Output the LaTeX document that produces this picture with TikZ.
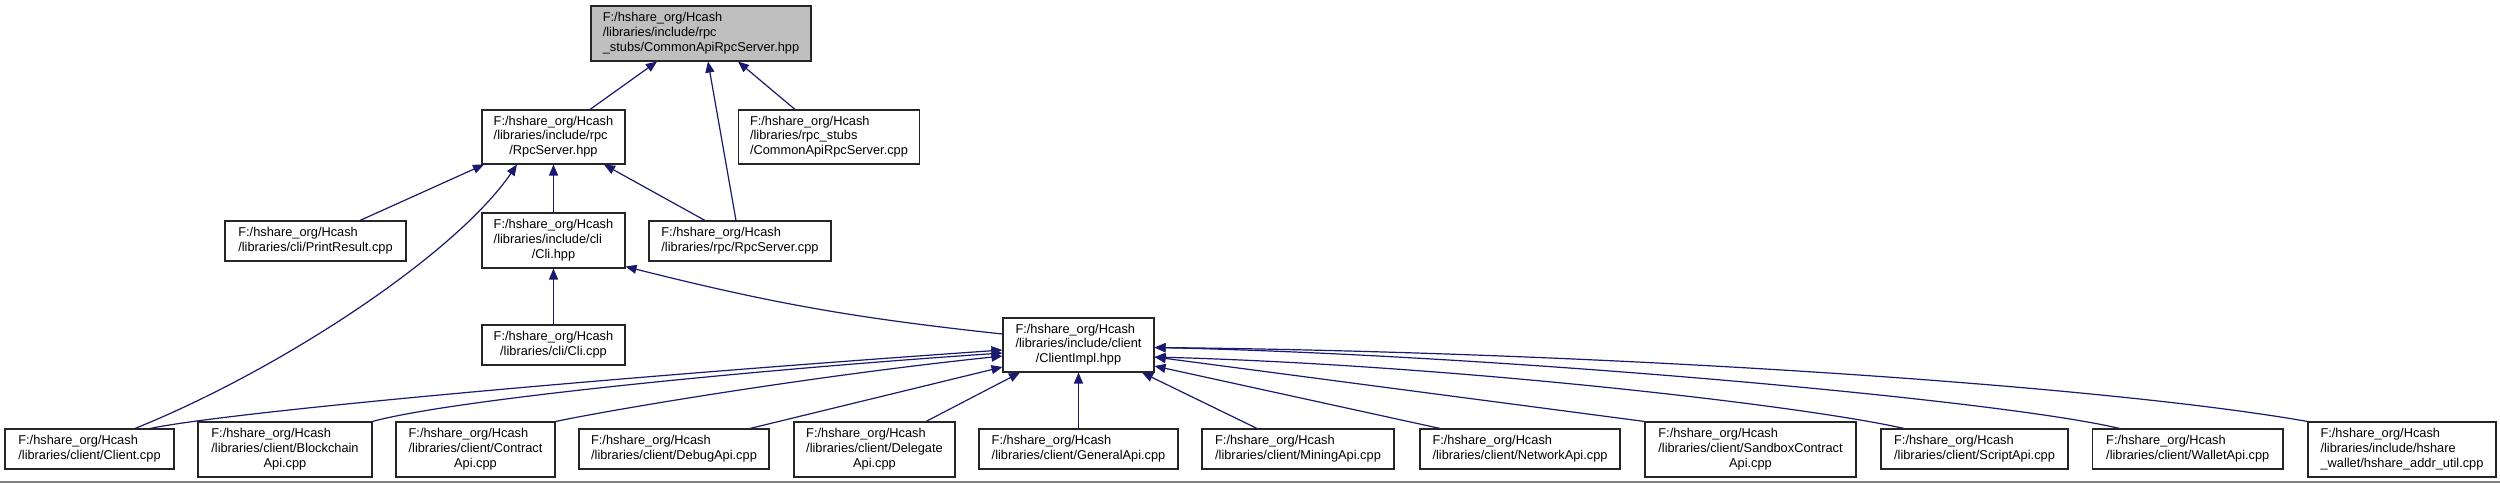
\documentclass[tikz,border=0pt]{standalone}
\usepackage{fontspec}
\setmainfont{Liberation Sans}
\usetikzlibrary{arrows.meta}
\definecolor{edgeblue}{HTML}{191970}
\definecolor{rootgray}{HTML}{BFBFBF}
\newcommand{\dgtxt}[2]{\begin{tabular}{@{}l@{}}#1\\\multicolumn{1}{@{}c@{}}{#2}\end{tabular}}
\begin{document}
\begin{tikzpicture}[x=1pt,y=-1pt,
  box/.style={draw=black!85, line width=1.1pt, fill=white, inner sep=0pt,
    font=\fontsize{12.8}{14.6}\selectfont, text=black},
  tall/.style={minimum height=55pt},
  short/.style={minimum height=40pt},
  edge/.style={draw=edgeblue, line width=1.2pt, -{Triangle[length=11pt,width=9pt]}}]
\fill[white] (0,0) rectangle (2500,483);
\useasboundingbox (0,0) rectangle (2500,483);
\draw[gray, line width=1.5pt] (0,482) -- (2500,482);

% nodes
\node[box, tall, fill=rootgray, minimum width=220pt] (top) at (701,33.5)
  {\dgtxt{F:/hshare\_org/Hcash\\/libraries/include/rpc}{\_stubs/CommonApiRpcServer.hpp}};
\node[box, minimum height=54pt, minimum width=143pt] (rpchpp) at (553.5,137)
  {\dgtxt{F:/hshare\_org/Hcash\\/libraries/include/rpc}{/RpcServer.hpp}};
\node[box, minimum height=54pt, minimum width=181pt] (capicpp) at (829,137)
  {\dgtxt{F:/hshare\_org/Hcash\\/libraries/rpc\_stubs}{/CommonApiRpcServer.cpp}};
\node[box, short, minimum width=181pt] (print) at (315.5,241)
  {\dgtxt{F:/hshare\_org/Hcash}{/libraries/cli/PrintResult.cpp}};
\node[box, tall, minimum width=143pt] (clihpp) at (553.5,240.5)
  {\dgtxt{F:/hshare\_org/Hcash\\/libraries/include/cli}{/Cli.hpp}};
\node[box, short, minimum width=182pt] (rpccpp) at (740,241)
  {\dgtxt{F:/hshare\_org/Hcash}{/libraries/rpc/RpcServer.cpp}};
\node[box, short, minimum width=143pt] (clicpp) at (553.5,345)
  {\dgtxt{F:/hshare\_org/Hcash}{/libraries/cli/Cli.cpp}};
\node[box, minimum height=54pt, minimum width=151pt] (cimpl) at (1078.5,345)
  {\dgtxt{F:/hshare\_org/Hcash\\/libraries/include/client}{/ClientImpl.hpp}};

\node[box, short, minimum width=169pt] (client) at (89.5,449)
  {\dgtxt{F:/hshare\_org/Hcash}{/libraries/client/Client.cpp}};
\node[box, tall, minimum width=174pt] (bchain) at (285,449.5)
  {\dgtxt{F:/hshare\_org/Hcash\\/libraries/client/Blockchain}{Api.cpp}};
\node[box, tall, minimum width=159pt] (contract) at (475.5,449.5)
  {\dgtxt{F:/hshare\_org/Hcash\\/libraries/client/Contract}{Api.cpp}};
\node[box, short, minimum width=190pt] (debug) at (674,449)
  {\dgtxt{F:/hshare\_org/Hcash}{/libraries/client/DebugApi.cpp}};
\node[box, tall, minimum width=161pt] (delegate) at (874.5,449.5)
  {\dgtxt{F:/hshare\_org/Hcash\\/libraries/client/Delegate}{Api.cpp}};
\node[box, short, minimum width=199pt] (general) at (1078.5,449)
  {\dgtxt{F:/hshare\_org/Hcash}{/libraries/client/GeneralApi.cpp}};
\node[box, short, minimum width=192pt] (mining) at (1298,449)
  {\dgtxt{F:/hshare\_org/Hcash}{/libraries/client/MiningApi.cpp}};
\node[box, short, minimum width=200pt] (network) at (1520,449)
  {\dgtxt{F:/hshare\_org/Hcash}{/libraries/client/NetworkApi.cpp}};
\node[box, tall, minimum width=211pt] (sandbox) at (1750.5,449.5)
  {\dgtxt{F:/hshare\_org/Hcash\\/libraries/client/SandboxContract}{Api.cpp}};
\node[box, short, minimum width=187pt] (script) at (1974.5,449)
  {\dgtxt{F:/hshare\_org/Hcash}{/libraries/client/ScriptApi.cpp}};
\node[box, short, minimum width=190.5pt] (wallet) at (2187.75,449)
  {\dgtxt{F:/hshare\_org/Hcash}{/libraries/client/WalletApi.cpp}};
\node[box, tall, minimum width=188pt] (hshare) at (2402,449.5)
  {\dgtxt{F:/hshare\_org/Hcash\\/libraries/include/hshare}{\_wallet/hshare\_addr\_util.cpp}};

% edges
\draw[edge] ([xshift=36.5pt]rpchpp.north) -- ([xshift=-44pt]top.south);
\draw[edge] ([xshift=-4pt]rpccpp.north) -- ([xshift=7pt]top.south);
\draw[edge] ([xshift=-34pt]capicpp.north) -- ([xshift=37pt]top.south);
\draw[edge] ([xshift=44.5pt]print.north) -- ([xshift=-69.5pt]rpchpp.south);
\draw[edge] ([xshift=45.5pt]client.north) .. controls (280,370) and (455,255) .. ([xshift=-36.5pt]rpchpp.south);
\draw[edge] (clihpp.north) -- (rpchpp.south);
\draw[edge] ([xshift=-35pt]rpccpp.north) -- ([xshift=50.5pt]rpchpp.south);
\draw[edge] (clicpp.north) -- (clihpp.south);
\draw[edge] ([yshift=11pt]cimpl.west) to[bend left=4] ([yshift=2pt]clihpp.south east);

\draw[edge] ([xshift=60.5pt]client.north) .. controls (230,412) and (600,378) .. ([yshift=-5pt]cimpl.west);
\draw[edge] (bchain.north east) .. controls (450,400) and (750,370) .. ([yshift=-8pt]cimpl.west);
\draw[edge] (contract.north east) .. controls (620,408) and (820,375) .. ([yshift=-11pt]cimpl.west);
\draw[edge] ([xshift=76pt]debug.north) -- ([yshift=-22pt]cimpl.west);
\draw[edge] ([xshift=51.5pt]delegate.north) -- ([xshift=-58.5pt]cimpl.south);
\draw[edge] (general.north) -- (cimpl.south);
\draw[edge] ([xshift=-41pt]mining.north) -- ([xshift=63.5pt]cimpl.south);
\draw[edge] ([xshift=-80pt]network.north) -- ([yshift=-21pt]cimpl.east);
\draw[edge] (sandbox.north west) -- ([yshift=-12pt]cimpl.east);
\draw[edge] ([xshift=-70.5pt]script.north) .. controls (1800,405) and (1450,365) .. ([yshift=-12pt]cimpl.east);
\draw[edge] ([xshift=-68.25pt]wallet.north) .. controls (2000,400) and (1500,355) .. ([yshift=-2.5pt]cimpl.east);
\draw[edge] (hshare.north west) .. controls (2100,385) and (1600,352) .. ([yshift=-2.5pt]cimpl.east);
\end{tikzpicture}
\end{document}
